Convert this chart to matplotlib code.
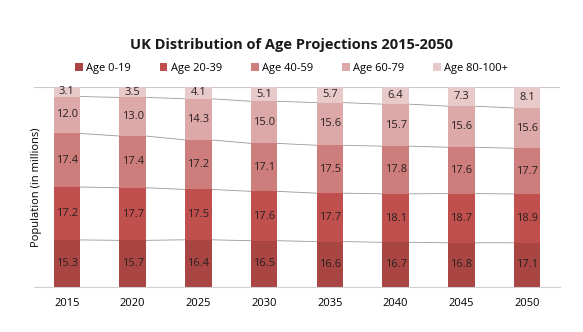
import numpy as np
import matplotlib
matplotlib.use("Agg")
import matplotlib.pyplot as plt

plt.rcParams["font.family"] = ["Open Sans", "DejaVu Sans"]

years = ["2015", "2020", "2025", "2030", "2035", "2040", "2045", "2050"]
age_0_19 = [15.3, 15.7, 16.4, 16.5, 16.6, 16.7, 16.8, 17.1]
age_20_39 = [17.2, 17.7, 17.5, 17.6, 17.7, 18.1, 18.7, 18.9]
age_40_59 = [17.4, 17.4, 17.2, 17.1, 17.5, 17.8, 17.6, 17.7]
age_60_79 = [12.0, 13.0, 14.3, 15.0, 15.6, 15.7, 15.6, 15.6]
age_80_100 = [3.1, 3.5, 4.1, 5.1, 5.7, 6.4, 7.3, 8.1]

labels = ["Age 0-19", "Age 20-39", "Age 40-59", "Age 60-79", "Age 80-100+"]
colors = ["#A94543", "#C0504D", "#CD7E7C", "#DDA9A8", "#E8CACA"]

data = np.array([age_0_19, age_20_39, age_40_59, age_60_79, age_80_100])
share = data / data.sum(axis=0)

fig = plt.figure(figsize=(5.83, 3.32), dpi=100)
ax = fig.add_axes([34 / 583, 45 / 332, 526 / 583, 200 / 332])

x = np.arange(len(years))
w = 0.405
bottom = np.zeros(len(years))
for i in range(len(labels)):
    ax.bar(x, share[i], w, bottom=bottom, color=colors[i], label=labels[i], zorder=2)
    for j in range(len(years)):
        ax.text(x[j], bottom[j] + share[i][j] / 2, f"{data[i][j]:.1f}",
                ha="center", va="center", fontsize=8, color="#2a2020", zorder=3)
    bottom = bottom + share[i]
    # series lines between bars
    if i < len(labels) - 1:
        for j in range(len(years) - 1):
            ax.plot([x[j] + w / 2, x[j + 1] - w / 2], [bottom[j], bottom[j + 1]],
                    color="#999999", lw=0.6, zorder=1)

ax.axhline(1.0, color="#c8c8c8", lw=0.8, zorder=0)
ax.set_xlim(-0.5, len(years) - 0.5)
ax.set_ylim(0, 1.0)
ax.set_xticks(x)
ax.set_xticklabels(years, fontsize=8)
ax.set_yticks([])
ax.tick_params(axis="x", length=0, pad=8)
for s in ["top", "right", "left"]:
    ax.spines[s].set_visible(False)
ax.spines["bottom"].set_color("#d0d0d0")
ax.set_ylabel("Population (in millions)", fontsize=8)
ax.yaxis.set_label_coords(0.015, 0.5)

fig.text(0.5, 0.865, "UK Distribution of Age Projections 2015-2050",
         ha="center", va="center", fontsize=10.5, fontweight="bold", color="#1a1a1a")
fig.legend(loc="center", bbox_to_anchor=(0.5, 0.795), ncol=5, frameon=False,
           fontsize=8, handlelength=0.7, handleheight=0.7, handletextpad=0.3,
           columnspacing=2.6)

fig.savefig("out.png", dpi=100)
